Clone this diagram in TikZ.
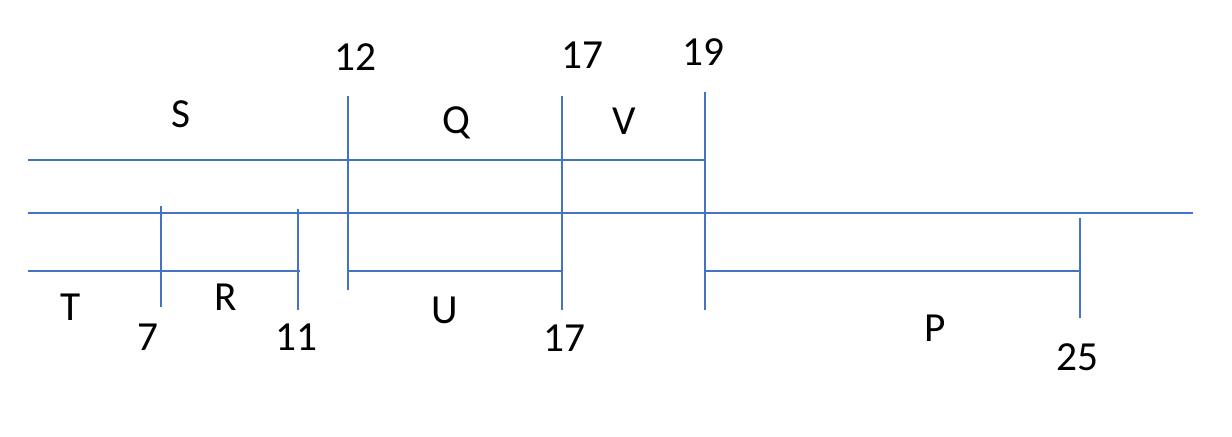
\documentclass[tikz,border=0pt]{standalone}
\usepackage{fontspec}
\setmainfont{Carlito}
\definecolor{lineblue}{RGB}{68, 114, 196}
\usepackage{tikz}
\usetikzlibrary{positioning, calc}

\begin{document}
\begin{tikzpicture}[x=0.75pt, y=-0.75pt,
    seg/.style={draw=lineblue, line width=1.6pt},
    lbl/.style={font=\fontsize{31}{36}\selectfont, inner sep=0pt, text depth=0pt}]
  \useasboundingbox (0, 0) rectangle (1232, 436);

  % Horizontal lines
  \draw[seg] (28, 160) -- (705, 160);
  \draw[seg] (28, 213) -- (1193, 213);
  \draw[seg] (28, 271) -- (300, 271);
  \draw[seg] (348, 271) -- (562, 271);
  \draw[seg] (706, 271) -- (1080, 271);

  % Vertical marks
  \draw[seg] (161, 206) -- (161, 307);
  \draw[seg] (298, 209) -- (298, 310);
  \draw[seg] (348, 96) -- (348, 290);
  \draw[seg] (562, 96) -- (562, 310);
  \draw[seg] (705, 92) -- (705, 310);
  \draw[seg] (1080, 218) -- (1080, 318);

  % Segment labels
  \node[lbl] (S) at (181, 114) {S};
  \node[lbl] (Q) at (456, 120) {Q};
  \node[lbl] (V) at (624, 121) {V};
  \node[lbl] (T) at (71, 307) {T};
  \node[lbl] (R) at (226, 297) {R};
  \node[lbl] (U) at (445, 310) {U};
  \node[lbl] (P) at (935, 328) {P};

  % Numbers
  \node[lbl] (n12) at (355, 57) {12};
  \node[lbl] (n17top) at (582, 55) {17};
  \node[lbl] (n19) at (703, 52) {19};
  \node[lbl] (n7) at (148, 337) {7};
  \node[lbl] (n11) at (296, 337) {11};
  \node[lbl] (n17bot) at (564, 338) {17};
  \node[lbl] (n25) at (1077, 357) {25};
\end{tikzpicture}
\end{document}
